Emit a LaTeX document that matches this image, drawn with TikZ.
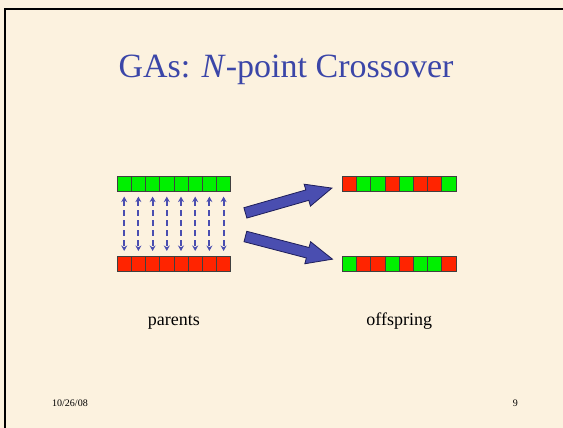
\documentclass[tikz,border=0pt]{standalone}
\usepackage{fontspec}
\setmainfont{Liberation Serif}
\usetikzlibrary{positioning}
\usetikzlibrary{arrows.meta}
\usetikzlibrary{shapes.arrows}
\definecolor{parch}{HTML}{FCF2DF}
\definecolor{slideblue}{HTML}{3B46A8}
\definecolor{arrblue}{HTML}{4A4EB0}
\definecolor{arrline}{HTML}{1E1E5A}
\definecolor{geneg}{HTML}{00F000}
\definecolor{gener}{HTML}{FF2400}
\tikzset{cell/.style={draw=black!75, line width=0.8pt, minimum width=14.2pt, minimum height=15pt, inner sep=0pt}}
\tikzset{swap/.style={<->, >={Stealth[length=5.5pt,width=6pt]}, arrblue, line width=2pt, dash pattern=on 6pt off 4pt, shorten >=4.5pt, shorten <=4.5pt}}
\tikzset{bigarr/.style={shape=single arrow, draw=arrline, fill=arrblue, line width=0.8pt, inner sep=5pt, minimum width=21pt, single arrow head extend=6pt, single arrow tip angle=48, anchor=tail}}
\tikzset{lab/.style={font=\fontsize{18}{20}\selectfont, anchor=base, inner sep=0pt}}

\begin{document}
\begin{tikzpicture}[x=1pt,y=-1pt]
        \useasboundingbox (0,0) rectangle (563,428);
        \fill[parch] (0,0) rectangle (563,428);
        \draw[line width=1.8pt] (563,9) -- (5,9) -- (5,428);

        \node[text=slideblue, font=\fontsize{34}{40}\selectfont, anchor=base] (title) at (286,78) {GAs: \textit{N}-point Crossover};

        % parents
        \foreach \c [count=\i] in {geneg,geneg,geneg,geneg,geneg,geneg,geneg,geneg}
            \node[cell, fill=\c] (pa\i) at ({110+14.2*\i},184.2) {};
        \foreach \c [count=\i] in {gener,gener,gener,gener,gener,gener,gener,gener}
            \node[cell, fill=\c] (pb\i) at ({110+14.2*\i},263.4) {};
        \foreach \i in {1,...,8}
            \draw[swap] (pa\i) -- (pb\i);

        % offspring
        \foreach \c [count=\i] in {gener,geneg,geneg,gener,geneg,gener,gener,geneg}
            \node[cell, fill=\c] (oa\i) at ({335.2+14.2*\i},184.2) {};
        \foreach \c [count=\i] in {geneg,gener,gener,geneg,gener,geneg,geneg,gener}
            \node[cell, fill=\c] (ob\i) at ({335.2+14.2*\i},263.8) {};

        \node[bigarr, minimum height=90pt, rotate=16] (up) at (245,213) {};
        \node[bigarr, minimum height=90pt, rotate=-14.6] (down) at (245,236.4) {};

        \node[lab] (plab) at (173.9,325) {parents};
        \node[lab] (olab) at (399.2,325) {offspring};

        \node[font=\fontsize{10}{12}\selectfont, anchor=base west, inner sep=0pt] (date) at (52,406.5) {10/26/08};
        \node[font=\fontsize{10}{12}\selectfont, anchor=base east, inner sep=0pt] (page) at (518,406.5) {9};
\end{tikzpicture}
\end{document}
